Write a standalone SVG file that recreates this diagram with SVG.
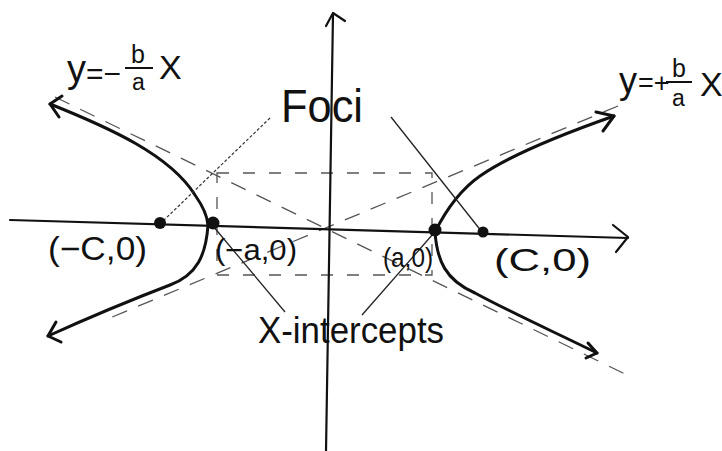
<svg xmlns="http://www.w3.org/2000/svg" width="722" height="451" viewBox="0 0 722 451">
<defs>
<style>
.axis{fill:none;stroke:#111;stroke-width:2.2;stroke-linecap:round;stroke-linejoin:round}
.curve{fill:none;stroke:#111;stroke-width:3;stroke-linecap:round;stroke-linejoin:round}
.asym{fill:none;stroke:#555;stroke-width:1.3;stroke-dasharray:16 12}
.box{fill:none;stroke:#555;stroke-width:1.3;stroke-dasharray:12 14}
.ptr{fill:none;stroke:#222;stroke-width:1.3}
.ptrd{fill:none;stroke:#333;stroke-width:1.2;stroke-dasharray:3 2}
.dot{fill:#111}
.t{font-family:"Liberation Sans",Arial,sans-serif;fill:#111}
</style>
</defs>
<rect width="722" height="451" fill="#fff"/>
<g id="guides">
<line class="asym" x1="55" y1="97" x2="625" y2="374"/>
<line class="asym" x1="618" y1="106" x2="105" y2="320"/>
<rect class="box" x="217" y="173" width="215" height="102"/>
</g>
<g id="axes">
<path class="axis" d="M10,220 L628,238"/>
<path class="axis" d="M613,225 L628,237 L616,252"/>
<path class="axis" d="M333,14 L326,451"/>
<path class="axis" d="M326,26 L333,13 L345,21"/>
</g>
<g id="left-branch">
<path class="curve" d="M50,104 C110,128 170,155 195,195 Q207,212 208,225 C206,255 197,275 170,285 Q110,308 48,336"/>
<path class="curve" d="M62,96 L50,104 L59,117"/>
<path class="curve" d="M56,322 L48,336 L61,342"/>
</g>
<g id="right-branch">
<path class="curve" d="M435,232 C445,212 460,190 480,176 C510,155 560,135 614,116"/>
<path class="curve" d="M596,112 L614,116 L603,131"/>
<path class="curve" d="M435,232 C437,260 445,280 475,293 C510,312 550,330 597,353"/>
<path class="curve" d="M588,343 L597,353 L586,358"/>
</g>
<g id="connectors">
<line class="ptrd" x1="270" y1="118" x2="162" y2="222"/>
<line class="ptr" x1="391" y1="117" x2="482" y2="232"/>
<line class="ptr" x1="285" y1="312" x2="213" y2="226"/>
<line class="ptr" x1="362" y1="315" x2="433" y2="234"/>
</g>
<g id="points">
<circle class="dot" cx="160" cy="223" r="6"/>
<circle class="dot" cx="213" cy="223" r="6.5"/>
<circle class="dot" cx="435" cy="230" r="6.5"/>
<circle class="dot" cx="483" cy="232" r="5.5"/>
</g>
<g id="label-neg">
<text class="t" x="67" y="82" font-size="38">y</text>
<text class="t" x="86" y="84" font-size="30">=−</text>
<text class="t" x="131" y="63" font-size="25">b</text>
<line x1="125" y1="68" x2="153" y2="68" stroke="#111" stroke-width="2"/>
<text class="t" x="132" y="90" font-size="23">a</text>
<text class="t" x="159" y="79" font-size="34">X</text>
</g>
<g id="label-pos">
<text class="t" x="619" y="93" font-size="36">y</text>
<text class="t" x="638" y="92" font-size="27">=+</text>
<text class="t" x="672" y="77" font-size="25">b</text>
<line x1="666" y1="82" x2="692" y2="82" stroke="#111" stroke-width="2"/>
<text class="t" x="672" y="106" font-size="23">a</text>
<text class="t" x="700" y="96" font-size="34">X</text>
</g>
<g id="label-foci">
<text class="t" x="281" y="122" font-size="46" textLength="82" lengthAdjust="spacingAndGlyphs">Foci</text>
</g>
<g id="label-points">
<text class="t" x="48" y="260" font-size="33" textLength="99" lengthAdjust="spacingAndGlyphs">(−C,0)</text>
<text class="t" x="215" y="260" font-size="29" textLength="82" lengthAdjust="spacingAndGlyphs">(−a,0)</text>
<text class="t" x="383" y="267" font-size="28" textLength="50" lengthAdjust="spacingAndGlyphs">(a,0)</text>
<text class="t" x="494" y="271" font-size="31" textLength="97" lengthAdjust="spacingAndGlyphs">(C,0)</text>
</g>
<g id="label-intercepts">
<text class="t" x="258" y="343" font-size="36" textLength="186" lengthAdjust="spacingAndGlyphs">X-intercepts</text>
</g>
</svg>
